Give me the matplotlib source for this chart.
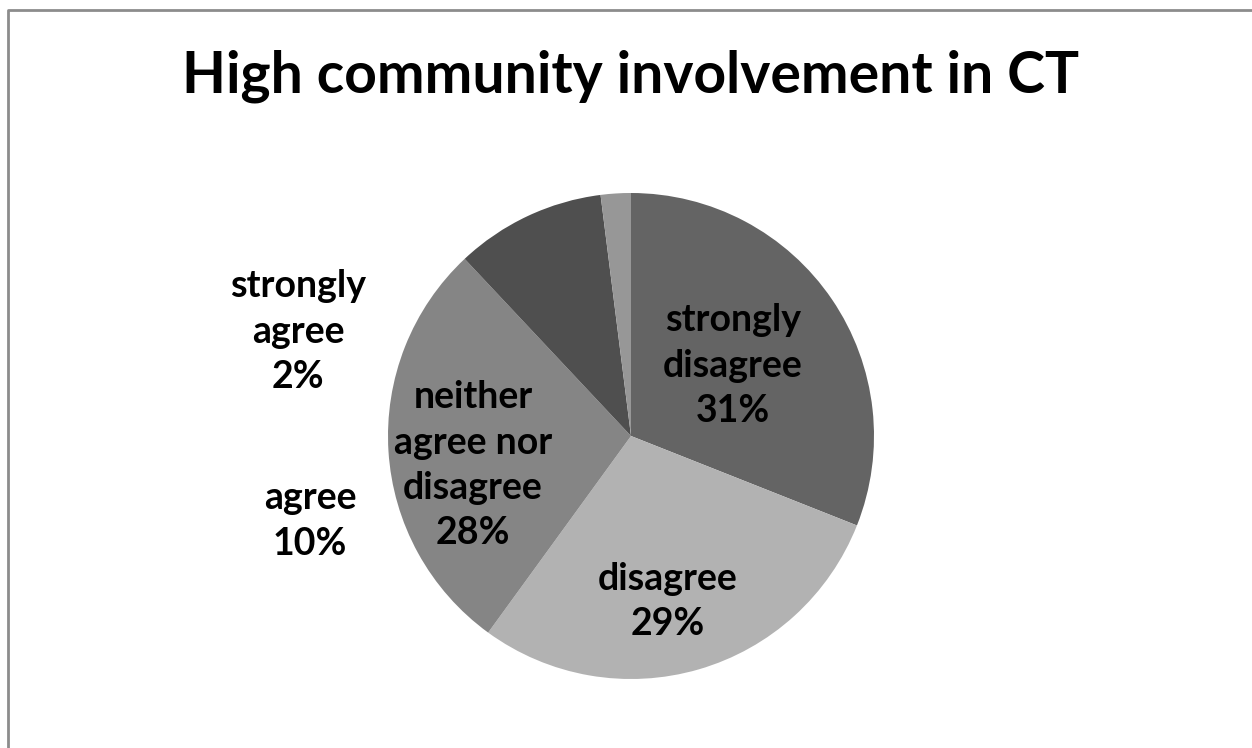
import matplotlib
matplotlib.use("Agg")
import matplotlib.pyplot as plt
from matplotlib.lines import Line2D

plt.rcParams['font.family'] = ['Lato', 'DejaVu Sans']

categories = ['strongly\ndisagree', 'disagree', 'neither\nagree nor\ndisagree', 'agree', 'strongly\nagree']
shares = [31, 29, 28, 10, 2]
colors = ['#646464', '#b2b2b2', '#858585', '#4f4f4f', '#979797']
# label centres, in pie radius units from the centre
label_pos = [(0.42, 0.29), (0.15, -0.68), (-0.65, -0.12), (-1.32, -0.35), (-1.37, 0.43)]

fig = plt.figure(figsize=(12.52, 7.48), dpi=100)
# chart frame: only the left and top edges fall inside the image
fx, fy = 8 / 1252, 1 - 9.5 / 748
fig.lines.append(Line2D([fx, fx, 1.05], [-0.05, fy, fy], transform=fig.transFigure,
                        color='#8c8c8c', linewidth=2))

r = 243
cx, cy = 631, 436
ax = fig.add_axes([(cx - r) / 1252, 1 - (cy + r) / 748, 2 * r / 1252, 2 * r / 748])
ax.pie(shares, colors=colors, startangle=90, counterclock=False, radius=1,
       wedgeprops=dict(linewidth=0))
ax.set_xlim(-1, 1)
ax.set_ylim(-1, 1)
ax.set_aspect('auto')

for name, val, (x, y) in zip(categories, shares, label_pos):
    ax.text(x, y, f'{name}\n{val}%', ha='center', va='center', fontsize=27,
            fontweight='bold', linespacing=1.4, clip_on=False)

fig.text(631 / 1252, 1 - 76 / 748, 'High community involvement in CT',
         ha='center', va='center', fontsize=41, fontweight='bold')

fig.savefig('out.png', dpi=100)
